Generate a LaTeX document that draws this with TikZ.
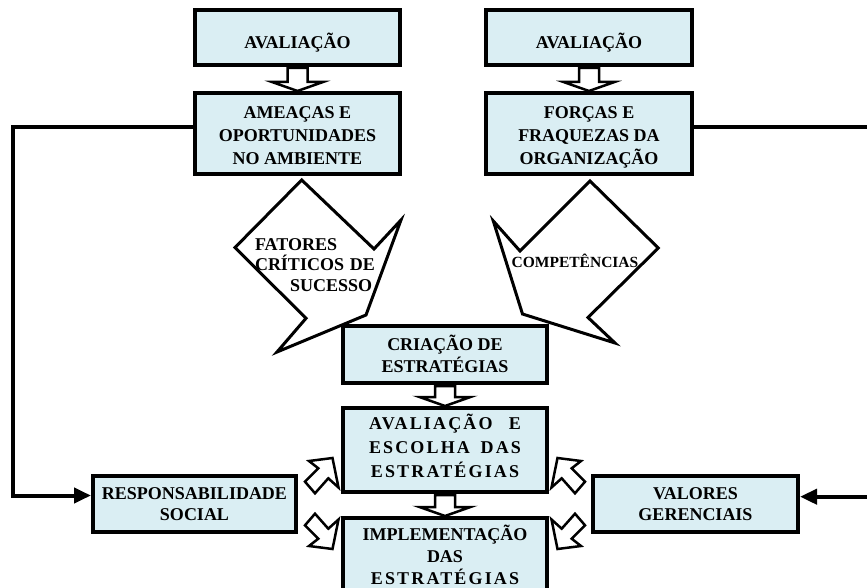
\documentclass[tikz,border=0pt]{standalone}
\usepackage{fontspec}
\setmainfont{Liberation Serif}
\newfontfamily\spacedserif{Liberation Serif}[LetterSpace=12]
\usetikzlibrary{arrows.meta,calc}
\definecolor{boxfill}{HTML}{DAEEF3}
\tikzset{
  stagebox/.style={draw=black, line width=4pt, fill=boxfill, rectangle,
    inner sep=0pt, align=center},
  lead/.style={font=\bfseries\fontsize{18}{#1}\selectfont},
  link/.style={line width=4pt, -{Triangle[length=17pt,width=15pt]}},
  blockarrow/.style={draw=black, line width=2.5pt, fill=white, line join=miter},
  bigarrow/.style={draw=black, line width=3pt, fill=white, line join=miter},
}
% hollow block arrow pointing down from one box to the next
\newcommand{\hollowdown}[2]{%
  \draw[blockarrow] let \p1=(#1.south), \p2=(#2.north) in
    (\x1-10pt,\y1-1pt) -- (\x1+10pt,\y1-1pt) -- (\x1+10pt,\y2+9pt)
    -- (\x1+25.5pt,\y2+9pt) -- (\x1,\y2) -- (\x1-25.5pt,\y2+9pt)
    -- (\x1-10pt,\y2+9pt) -- cycle;}
\begin{document}
\begin{tikzpicture}[x=1pt,y=-1pt]
\useasboundingbox (0,0) rectangle (867,588);

% large block arrows feeding the strategy box
\draw[bigarrow] (301.7,180) -- (374,249) -- (401,220) -- (366,315)
  -- (277,352) -- (306,318.3) -- (235,247.5) -- cycle;
\draw[bigarrow] (590,181) -- (658.3,248) -- (588,317.5) -- (615,343)
  -- (522.5,314) -- (493.3,221) -- (520,251) -- cycle;
\node[lead=20, text width=120pt, align=left, inner sep=0pt,
  text height=12pt, text depth=40pt] (fcs) at (315,265)
  {FATORES\\CRÍTICOS\hfill DE\\\hspace*{35pt}SUCESSO};
\node[font=\bfseries\fontsize{15.5}{18}\selectfont, inner sep=0pt,
  text height=10.3pt, text depth=0pt] (comp) at (575,262.3) {COMPETÊNCIAS};

% boxes
\node[stagebox, lead=23, minimum width=205pt, minimum height=55pt,
  text height=23pt, text depth=0pt] (av1) at (297.5,37.5) {AVALIAÇÃO};
\node[stagebox, lead=23, minimum width=206pt, minimum height=55pt,
  text height=23pt, text depth=0pt] (av2) at (589,37.5) {AVALIAÇÃO};
\node[stagebox, lead=23, minimum width=205pt, minimum height=81pt,
  text height=62pt, text depth=0pt] (amea) at (297.5,133.5)
  {AMEAÇAS E\\OPORTUNIDADES\\NO AMBIENTE};
\node[stagebox, lead=23, minimum width=206pt, minimum height=81pt,
  text height=62pt, text depth=0pt] (forc) at (589,133.5)
  {FORÇAS E\\FRAQUEZAS DA\\ORGANIZAÇÃO};
\node[stagebox, lead=22, minimum width=204pt, minimum height=57pt,
  text height=36.4pt, text depth=0pt] (cria) at (445,354.5)
  {CRIAÇÃO DE\\ESTRATÉGIAS};
\node[stagebox, font=\spacedserif\bfseries\fontsize{18}{24}\selectfont,
  text width=152pt, minimum width=204pt, minimum height=84pt,
  text height=12pt, text depth=54pt] (aval) at (445,450)
  {AVALIAÇÃO\hfill E\\ESCOLHA\hfill DAS\\ESTRATÉGIAS};
\node[stagebox, lead=22, minimum width=204pt, minimum height=82pt,
  text height=50pt, text depth=0pt] (impl) at (445,559)
  {IMPLEMENTAÇÃO\\DAS\\{\spacedserif ESTRATÉGIAS}};
\node[stagebox, lead=21, minimum width=203pt, minimum height=56pt,
  text height=32.6pt, text depth=0pt] (resp) at (194.5,504)
  {RESPONSABILIDADE\\SOCIAL};
\node[stagebox, lead=21, minimum width=205pt, minimum height=56pt,
  text height=32pt, text depth=0pt] (valo) at (695.5,504)
  {VALORES\\GERENCIAIS};

% hollow arrows down the columns
\hollowdown{av1}{amea}
\hollowdown{av2}{forc}
\hollowdown{cria}{aval}
\hollowdown{aval}{impl}

% small hollow arrows from the side boxes
\draw[blockarrow] (305,481.7) -- (318.3,468.3) -- (309,461) -- (332.5,458)
  -- (338.5,487.5) -- (328.3,478.3) -- (315,493.3) -- cycle;
\draw[blockarrow] (305,525.3) -- (318.3,538.7) -- (309,546) -- (332.5,549)
  -- (338.5,519.5) -- (328.3,528.7) -- (315,513.7) -- cycle;
\draw[blockarrow] (585,481.7) -- (571.7,468.3) -- (581,461) -- (557.5,458)
  -- (551.5,487.5) -- (561.7,478.3) -- (575,493.3) -- cycle;
\draw[blockarrow] (585,525.3) -- (571.7,538.7) -- (581,546) -- (557.5,549)
  -- (551.5,519.5) -- (561.7,528.7) -- (575,513.7) -- cycle;

% feedback lines
\coordinate (lturn) at (12.5,495.5);
\coordinate (rturn) at (880,496.7);
\draw[link] ([yshift=6.5pt]amea.west) -| (lturn) -- ([yshift=8.5pt]resp.west);
\draw[link] ([yshift=6.5pt]forc.east) -| (rturn) -- ([yshift=7.3pt]valo.east);
\end{tikzpicture}
\end{document}
